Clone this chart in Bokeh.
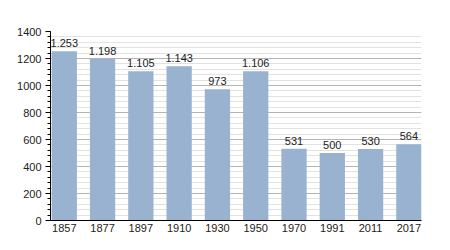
from bokeh.plotting import figure
from bokeh.models import ColumnDataSource, SingleIntervalTicker, FixedTicker, Range1d
from bokeh.core.properties import value
from bokeh.embed import file_html
from bokeh.resources import INLINE

years = ["1857", "1877", "1897", "1910", "1930", "1950", "1970", "1991", "2011", "2017"]
population = [1253, 1198, 1105, 1143, 973, 1106, 531, 500, 530, 564]
labels = ["1.253", "1.198", "1.105", "1.143", "973", "1.106", "531", "500", "530", "564"]

xs = list(range(len(years)))
src = ColumnDataSource(dict(x=xs, top=population, label=labels))

FONT = "Liberation Sans"
p = figure(width=450, height=250, output_backend="svg", toolbar_location=None,
           x_range=Range1d(-0.36, len(years) - 1 + 0.33), y_range=Range1d(0, 1400),
           min_border_left=50, min_border_right=29, min_border_top=31, min_border_bottom=30)
p.outline_line_color = None
p.background_fill_color = "white"

p.vbar(x="x", top="top", width=0.66, source=src, fill_color="#98b2d0", line_color=None)
p.text(x="x", y="top", text="label", source=src, text_align="center", text_baseline="bottom",
       y_offset=-4, text_font=value(FONT), text_font_size="11px", text_color="#222222")

# grid
p.xgrid.visible = False
p.ygrid.ticker = SingleIntervalTicker(interval=200, num_minor_ticks=5)
p.ygrid.grid_line_color = "#b4b4b4"
p.ygrid.grid_line_width = 1
p.ygrid.minor_grid_line_color = "#e2e2e2"
p.ygrid.level = "underlay"

# y axis
p.yaxis.ticker = SingleIntervalTicker(interval=200, num_minor_ticks=5)
p.yaxis.axis_line_color = "black"
p.yaxis.major_tick_out = 5
p.yaxis.major_tick_in = 0
p.yaxis.minor_tick_out = 3
p.yaxis.minor_tick_in = 0
p.yaxis.major_label_text_font = FONT
p.yaxis.major_label_text_font_size = "11px"
p.yaxis.major_label_text_color = "#222222"
p.yaxis.major_label_standoff = 4

# x axis
p.xaxis.ticker = FixedTicker(ticks=xs)
p.xaxis.major_label_overrides = {i: y for i, y in enumerate(years)}
p.xaxis.axis_line_color = "black"
p.xaxis.major_tick_line_color = None
p.xaxis.minor_tick_line_color = None
p.xaxis.major_tick_out = 0
p.xaxis.major_tick_in = 0
p.xaxis.minor_tick_out = 0
p.xaxis.major_label_text_font = FONT
p.xaxis.major_label_text_font_size = "11px"
p.xaxis.major_label_text_color = "#222222"
p.xaxis.major_label_standoff = 3

open("out.html", "w").write(file_html(p, INLINE))
